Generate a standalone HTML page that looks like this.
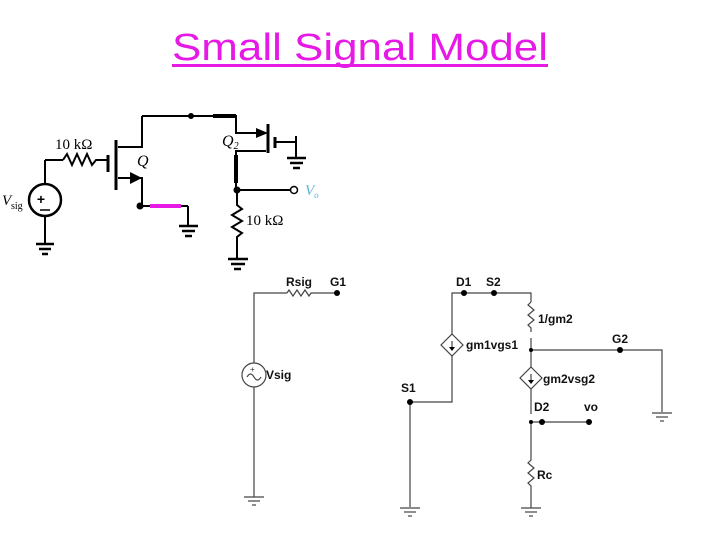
<!DOCTYPE html>
<html><head><meta charset="utf-8"><style>
html,body{margin:0;padding:0;background:#fff;}
svg{display:block;}
text{font-family:"Liberation Sans",Arial,sans-serif;}
</style></head><body>
<svg width="720" height="540" viewBox="0 0 720 540" xmlns="http://www.w3.org/2000/svg">
<rect width="720" height="540" fill="#fff"/>
<!-- Title -->
<text x="172" y="60" font-size="38" fill="#e619e6" textLength="376" lengthAdjust="spacingAndGlyphs">Small Signal Model</text>
<rect x="172" y="64" width="376" height="3" fill="#e619e6"/>

<!-- Top circuit -->
<g stroke="#000" stroke-width="2" fill="none">
  <!-- Vsig source -->
  <circle cx="45" cy="200" r="16" stroke-width="2.5"/>
  <line x1="45" y1="184" x2="45" y2="160"/>
  <line x1="45" y1="160" x2="63" y2="160"/>
  <polyline points="63,160 67,154 72,165 77,154 82,165 87,154 92,165 96,160 108,160"/>
  <line x1="45" y1="216" x2="45" y2="243"/>
  <line x1="36" y1="244" x2="54" y2="244" stroke-width="2.5"/>
  <line x1="39" y1="249" x2="51" y2="249" stroke-width="2.5"/>
  <line x1="42" y1="254" x2="48" y2="254" stroke-width="2.5"/>
  <!-- Q1 -->
  <line x1="108" y1="155" x2="108" y2="172" stroke-width="3"/>
  <line x1="116" y1="140" x2="116" y2="190" stroke-width="3"/>
  <polyline points="142,116 142,147 118,147"/>
  <polyline points="118,178 142,178 142,205"/>
  <polyline points="142,116 236,116 236,133 258,133"/>
  <!-- Q2 -->
  <line x1="268" y1="124" x2="268" y2="153" stroke-width="3"/>
  <line x1="275" y1="137" x2="275" y2="148" stroke-width="3"/>
  <polyline points="275,142 296,142 296,136"/>
  <line x1="296" y1="142" x2="296" y2="157"/>
  <line x1="287" y1="158" x2="306" y2="158" stroke-width="2.5"/>
  <line x1="290" y1="163" x2="303" y2="163" stroke-width="2.5"/>
  <line x1="293" y1="168" x2="300" y2="168" stroke-width="2.5"/>
  <polyline points="266,151 236,151 236,190"/>
  <line x1="236" y1="190" x2="290" y2="190"/>
  <polyline points="237,190 237,205 242,209 232,215 242,221 232,227 242,233 237,237 237,258"/>
  <line x1="228" y1="259" x2="248" y2="259" stroke-width="2.5"/>
  <line x1="231" y1="264" x2="245" y2="264" stroke-width="2.5"/>
  <line x1="234" y1="269" x2="241" y2="269" stroke-width="2.5"/>
  <!-- Q1 source ground -->
  <line x1="140" y1="206" x2="188" y2="206"/>
  <line x1="188" y1="206" x2="188" y2="225"/>
  <line x1="179" y1="226" x2="198" y2="226" stroke-width="2.5"/>
  <line x1="182" y1="231" x2="195" y2="231" stroke-width="2.5"/>
  <line x1="185" y1="236" x2="192" y2="236" stroke-width="2.5"/>
  <circle cx="294" cy="190" r="3.5" fill="#fff" stroke-width="1.5"/>
</g>
<line x1="150" y1="206" x2="181" y2="206" stroke="#e619e6" stroke-width="4"/>
<line x1="213" y1="116" x2="236" y2="116" stroke="#000" stroke-width="4"/>
<line x1="236" y1="155" x2="236" y2="183" stroke="#000" stroke-width="4"/>
<polygon points="130,172 142,178 130,184" fill="#000"/>
<polygon points="256,128 268,133 256,138" fill="#000"/>
<circle cx="191" cy="116" r="3" fill="#000"/>
<circle cx="140" cy="206" r="3.5" fill="#000"/>
<circle cx="237" cy="190" r="3.5" fill="#000"/>
<text x="41" y="204" font-size="14" font-weight="bold" fill="#000" text-anchor="middle">+</text>
<line x1="40" y1="210" x2="50" y2="210" stroke="#000" stroke-width="1.5"/>
<text x="55" y="149" font-size="15" font-family="Liberation Serif" fill="#000" style="font-family:'Liberation Serif',serif">10 kΩ</text>
<text x="2" y="205" font-size="15" font-style="italic" style="font-family:'Liberation Serif',serif">V</text>
<text x="11" y="209" font-size="10" style="font-family:'Liberation Serif',serif">sig</text>
<text x="137" y="166" font-size="16" font-style="italic" style="font-family:'Liberation Serif',serif">Q</text>
<text x="222" y="146" font-size="16" font-style="italic" style="font-family:'Liberation Serif',serif">Q<tspan font-size="10" dy="3">2</tspan></text>
<text x="305" y="195" font-size="15" font-style="italic" fill="#5ab4d6" style="font-family:'Liberation Serif',serif">V<tspan font-size="9" dy="3">o</tspan></text>
<text x="246" y="225" font-size="15" style="font-family:'Liberation Serif',serif">10 kΩ</text>

<!-- Small signal circuit -->
<g stroke="#444" stroke-width="1.2" fill="none">
  <!-- Vsig branch -->
  <polyline points="254,363 254,293 287,293"/>
  <polyline points="287,293 289,290 293,296 297,290 301,296 305,290 309,296 311,293 337,293"/>
  <circle cx="254" cy="375" r="12"/>
  <path d="M247,377 q3.5,-6 7,0 t7,0"/>
  <line x1="254" y1="387" x2="254" y2="497"/>
  <line x1="244" y1="497" x2="264" y2="497"/>
  <line x1="248" y1="501" x2="260" y2="501"/>
  <line x1="252" y1="505" x2="256" y2="505"/>
  <!-- D1 branch -->
  <polyline points="452,334 452,293 531,293 531,302"/>
  <polyline points="531,302 528,305 534,310 528,315 534,320 528,325 531,328 531,332"/>
  <line x1="531" y1="338" x2="531" y2="367"/>
  <polygon points="452,334 463,345 452,356 441,345"/>
  <line x1="452" y1="341" x2="452" y2="349"/>
  <polyline points="452,356 452,402 410,402 410,507"/>
  <line x1="400" y1="508" x2="420" y2="508"/>
  <line x1="404" y1="512" x2="416" y2="512"/>
  <line x1="408" y1="516" x2="412" y2="516"/>
  <!-- G2 -->
  <polyline points="531,350 662,350 662,412"/>
  <line x1="652" y1="413" x2="672" y2="413"/>
  <line x1="656" y1="417" x2="668" y2="417"/>
  <line x1="660" y1="421" x2="664" y2="421"/>
  <polygon points="531,367 542,378 531,389 520,378"/>
  <line x1="531" y1="374" x2="531" y2="382"/>
  <line x1="531" y1="389" x2="531" y2="414"/>
  <line x1="531" y1="422" x2="589" y2="422"/>
  <polyline points="531,422 531,460 528,463 534,468 528,473 534,478 528,483 531,486 531,508"/>
  <line x1="521" y1="508" x2="541" y2="508"/>
  <line x1="525" y1="512" x2="537" y2="512"/>
  <line x1="529" y1="516" x2="533" y2="516"/>
</g>
<polygon points="449,347 455,347 452,351" fill="#000"/>
<polygon points="528,380 534,380 531,384" fill="#000"/>
<g fill="#000">
  <circle cx="337" cy="293" r="3"/>
  <circle cx="464" cy="293" r="3"/>
  <circle cx="494" cy="293" r="3"/>
  <circle cx="410" cy="402" r="3"/>
  <circle cx="620" cy="350" r="3"/>
  <circle cx="531" cy="350" r="2"/>
  <circle cx="531" cy="422" r="2"/>
  <circle cx="542" cy="422" r="3"/>
  <circle cx="589" cy="422" r="3"/>
</g>
<g font-size="12" font-weight="bold" fill="#111">
  <text x="286" y="286">Rsig</text>
  <text x="330" y="286">G1</text>
  <text x="456" y="286">D1</text>
  <text x="486" y="286">S2</text>
  <text x="538" y="323">1/gm2</text>
  <text x="466" y="349">gm1vgs1</text>
  <text x="612" y="343">G2</text>
  <text x="543" y="383">gm2vsg2</text>
  <text x="401" y="392">S1</text>
  <text x="534" y="411">D2</text>
  <text x="584" y="411">vo</text>
  <text x="537" y="479">Rc</text>
  <text x="266" y="379">Vsig</text>
</g>
<text x="250" y="372" font-size="8" fill="#333">+</text>
</svg>
</body></html>
